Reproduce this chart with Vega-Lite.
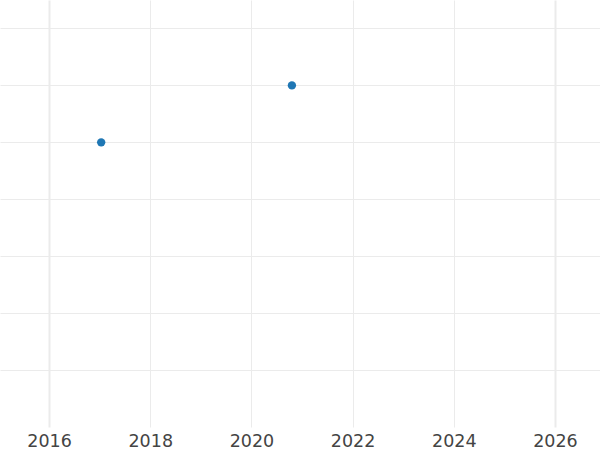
{
  "$schema": "https://vega.github.io/schema/vega-lite/v6.json",
  "width": 600,
  "height": 450,
  "padding": 0,
  "autosize": {"type": "fit", "contains": "padding"},
  "config": {"view": {"stroke": null}, "font": "DejaVu Sans"},
  "data": {"values": [
    {"year": 2017.03, "value": 5},
    {"year": 2020.8, "value": 6}
  ]},
  "mark": {"type": "point", "filled": true, "opacity": 1, "size": 70, "color": "#1f77b4"},
  "encoding": {
    "x": {
      "field": "year", "type": "quantitative",
      "scale": {"domain": [2015.03, 2026.89], "nice": false, "zero": false},
      "axis": {
        "title": null, "values": [2016, 2018, 2020, 2022, 2024, 2026], "format": "d",
        "domain": false, "ticks": false, "labelFontSize": 17.5, "labelColor": "#444444",
        "labelPadding": 5, "gridColor": "#ebebeb",
        "gridWidth": {"condition": {"test": "datum.value == 2016 || datum.value == 2026", "value": 2}, "value": 1},
        "labelFlush": false
      }
    },
    "y": {
      "field": "value", "type": "quantitative",
      "scale": {"domain": [0, 7.5], "nice": false},
      "axis": {
        "title": null, "values": [1, 2, 3, 4, 5, 6, 7], "labels": false, "domain": false, "ticks": false,
        "gridColor": "#ebebeb", "gridWidth": 1
      }
    }
  }
}
